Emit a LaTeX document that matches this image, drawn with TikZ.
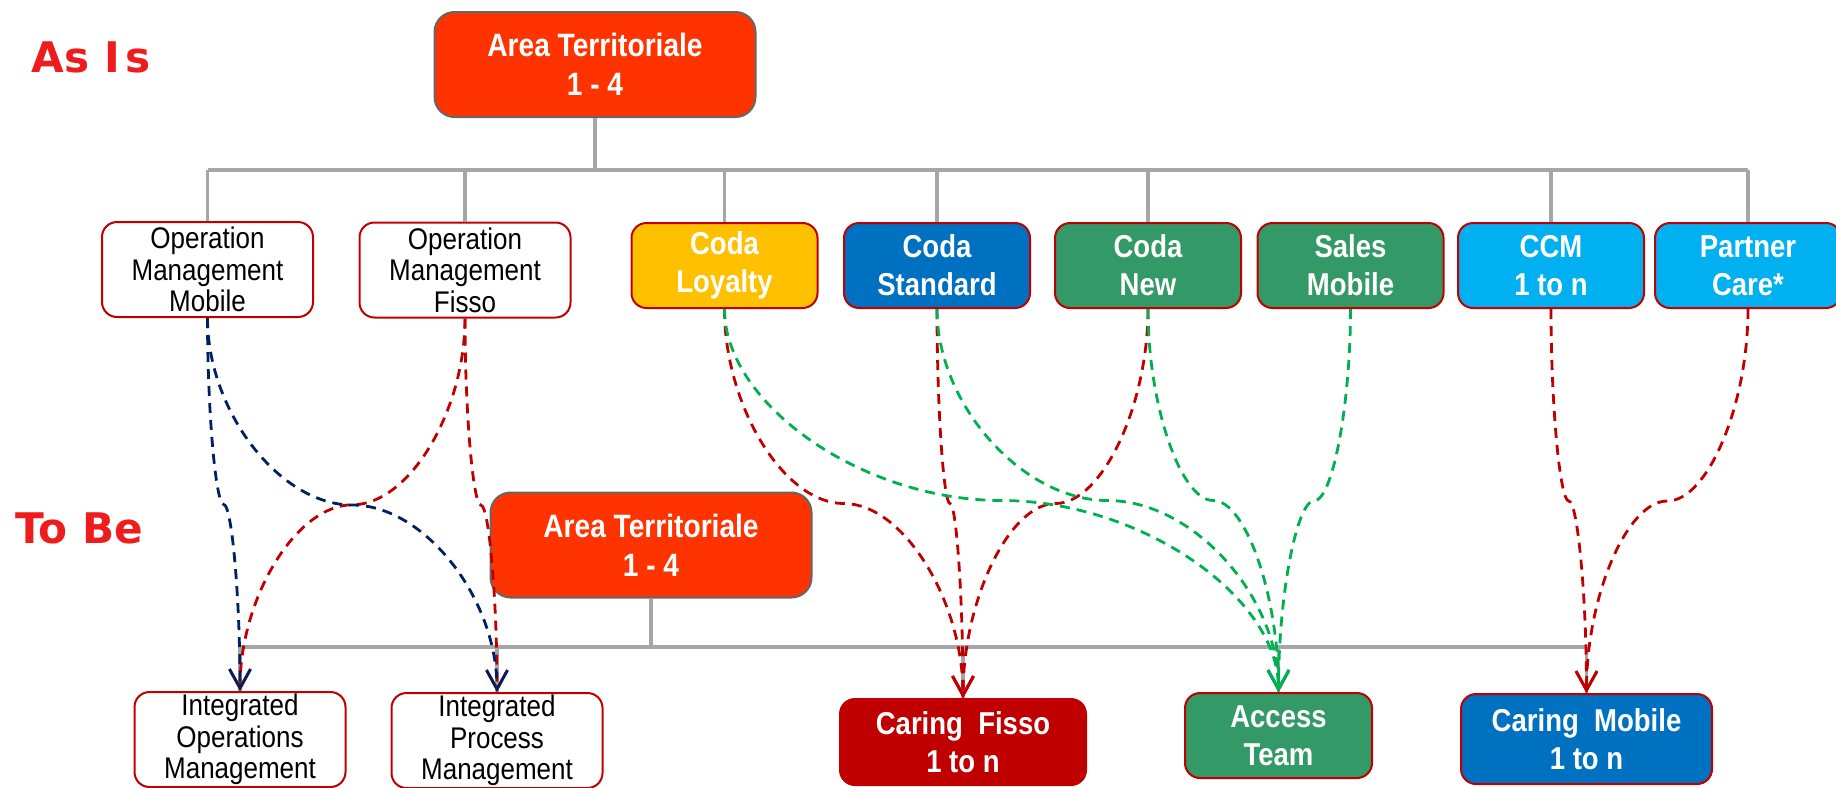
\documentclass[tikz,border=0pt]{standalone}
\usepackage{fontspec}
\usepackage{tikz}
\usetikzlibrary{calc}
\usetikzlibrary{arrows.meta}

\newfontfamily\boxfont{Liberation Sans}[FakeStretch=0.87]
\newfontfamily\tagfont{DejaVu Sans}

\definecolor{areared}{HTML}{FF3300}
\definecolor{loyaltyyellow}{HTML}{FFC000}
\definecolor{stdblue}{HTML}{0070C0}
\definecolor{teamgreen}{HTML}{339966}
\definecolor{ccmcyan}{HTML}{00B0F0}
\definecolor{fissored}{HTML}{C00000}
\definecolor{linknavy}{HTML}{002060}
\definecolor{linkgreen}{HTML}{00B050}
\definecolor{busgray}{HTML}{A6A6A6}
\definecolor{tagred}{HTML}{EE1C1C}

% dashed elbow curve: down, across at half height, down again
\newcommand{\curvelink}[3]{%
  \draw[flowlink,#1] let \p1=(#2.south), \p2=(#3.north), \p3=($(\p1)!0.5!(\p2)$) in
    (\p1) .. controls (\x1,{(\y1+\y3)/2}) and ({(3*\x1+\x2)/4},\y3) .. (\x3,\y3)
          .. controls ({(\x1+3*\x2)/4},\y3) and (\x2,{(\y3+\y2)/2}) .. (\p2);}

\begin{document}
\begin{tikzpicture}[
    unitnode/.style={rounded corners=1.5mm, draw=fissored, line width=0.2mm, inner sep=0pt,
      align=center, minimum width=1.86cm, minimum height=0.85cm, text=white,
      font=\boxfont\bfseries\fontsize{9}{10.8}\selectfont},
    opsnode/.style={unitnode, fill=white, text=black, minimum width=2.11cm, minimum height=0.95cm,
      font=\boxfont\fontsize{8.5}{9}\selectfont},
    areanode/.style={unitnode, draw=black!60, fill=areared, minimum width=3.21cm,
      minimum height=1.05cm, rounded corners=2mm, font=\boxfont\bfseries\fontsize{9.2}{11}\selectfont},
    busline/.style={draw=busgray, line width=0.47mm},
    dropline/.style={draw=busgray, line width=0.36mm},
    flowlink/.style={line width=0.28mm, dash pattern=on 1mm off 0.7mm,
      -{Straight Barb[length=1.9mm,width=2.1mm]}},
    phase/.style={text=tagred, inner sep=0pt, font=\tagfont\bfseries\fontsize{12}{14}\selectfont}
  ]
  \useasboundingbox (0,0) rectangle (18.36,-7.87);

  % labels
  \node[phase,anchor=base west] (asis) at (0.31,-0.72) {As I\kern1.5pt s};
  \node[phase,anchor=base west] (tobe) at (0.15,-5.43) {To Be};

  % as is
  \node[areanode] (top) at (5.95,-0.645) {Area Territoriale\\1 - 4};
  \node[opsnode] (omm) at (2.075,-2.695) {Operation\\Management\\Mobile};
  \node[opsnode] (omf) at (4.65,-2.70) {Operation\\Management\\Fisso};
  \node[unitnode,fill=loyaltyyellow] (loyalty) at (7.245,-2.655) {Coda\\Loyalty};
  \node[unitnode,fill=stdblue] (standard) at (9.37,-2.655) {Coda\\Standard};
  \node[unitnode,fill=teamgreen] (codanew) at (11.48,-2.655) {Coda\\New};
  \node[unitnode,fill=teamgreen] (sales) at (13.505,-2.655) {Sales\\Mobile};
  \node[unitnode,fill=ccmcyan] (ccm) at (15.51,-2.655) {CCM\\1 to n};
  \node[unitnode,fill=ccmcyan] (partner) at (17.48,-2.655) {Partner\\Care*};

  \coordinate (topbus) at (0,-1.70);
  \draw[busline] (top.south) -- (top.south |- topbus);
  \draw[busline] (omm.north |- topbus) -- (partner.north |- topbus);
  \foreach \n in {omm,omf,loyalty,standard,codanew,ccm,partner}
    \draw[dropline] (\n.north |- topbus) -- (\n.north);

  % to be
  \node[areanode] (mid) at (6.51,-5.45) {Area Territoriale\\1 - 4};
  \node[opsnode] (iom) at (2.40,-7.395) {Integrated\\Operations\\Management};
  \node[opsnode] (ipm) at (4.97,-7.405) {Integrated\\Process\\Management};
  \node[unitnode,fill=fissored,minimum width=2.46cm,minimum height=0.86cm] (cfisso) at (9.63,-7.42) {Caring\ \ Fisso\\1 to n};
  \node[unitnode,fill=teamgreen,minimum width=1.87cm] (access) at (12.785,-7.355) {Access\\Team};
  \node[unitnode,fill=stdblue,minimum width=2.51cm,minimum height=0.90cm] (cmobile) at (15.865,-7.39) {Caring\ \ Mobile\\1 to n};

  \coordinate (lowbus) at (0,-6.47);
  \draw[busline] (mid.south) -- (mid.south |- lowbus);
  \draw[busline] (iom.north |- lowbus) -- (cmobile.north |- lowbus);
  \foreach \n in {iom,ipm,cfisso,access,cmobile}
    \draw[dropline] (\n.north |- lowbus) -- (\n.north);

  % moves
  \curvelink{fissored}{omf}{iom}
  \curvelink{fissored}{omf}{ipm}
  \curvelink{linknavy}{omm}{iom}
  \curvelink{linknavy}{omm}{ipm}
  \foreach \src in {loyalty,standard,codanew}
    {\curvelink{fissored}{\src}{cfisso}}
  \foreach \src in {loyalty,standard,codanew,sales}
    {\curvelink{linkgreen}{\src}{access}}
  \curvelink{fissored}{ccm}{cmobile}
  \curvelink{fissored}{partner}{cmobile}
\end{tikzpicture}
\end{document}
